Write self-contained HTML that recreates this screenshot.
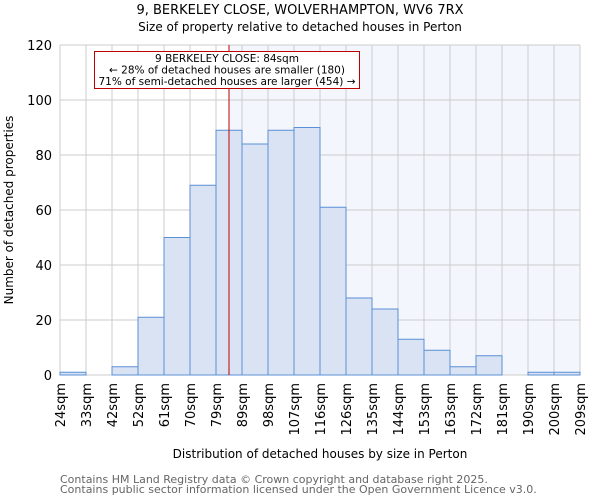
<!DOCTYPE html>
<html><head><meta charset="utf-8"><style>
body{margin:0;background:#fff;font-family:"DejaVu Sans","Liberation Sans",sans-serif}
</style></head><body>
<svg width="600" height="500" id="chart" font-family="DejaVu Sans, Liberation Sans, sans-serif">
<text x="300" y="14" text-anchor="middle" font-size="13">9, BERKELEY CLOSE, WOLVERHAMPTON, WV6 7RX</text>
<text x="300" y="31" text-anchor="middle" font-size="12">Size of property relative to detached houses in Perton</text>
<g id="plot"></g>
<text x="320" y="458" text-anchor="middle" font-size="12">Distribution of detached houses by size in Perton</text>
<text transform="translate(13,210) rotate(-90)" text-anchor="middle" font-size="12">Number of detached properties</text>
<text x="60" y="483" font-size="11" fill="#666">Contains HM Land Registry data © Crown copyright and database right 2025.</text>
<text x="60" y="493" font-size="11" fill="#666">Contains public sector information licensed under the Open Government Licence v3.0.</text>
</svg>
<script>
const categories=["24sqm","33sqm","42sqm","52sqm","61sqm","70sqm","79sqm","89sqm","98sqm","107sqm","116sqm","126sqm","135sqm","144sqm","153sqm","163sqm","172sqm","181sqm","190sqm","200sqm","209sqm"];
const counts=[1,0,3,21,50,69,89,84,89,90,61,28,24,13,9,3,7,0,1,1];
const yTicks=[0,20,40,60,80,100,120];
const markerIndex=6.5;
const NS="http://www.w3.org/2000/svg";
const g=document.getElementById("plot");
const L=60,R=580,T=45,B=375,yMax=120,n=counts.length;
const xs=i=>L+(R-L)*i/n;
const ys=v=>B-(B-T)*v/yMax;
function mk(t,a){const e=document.createElementNS(NS,t);for(const k in a)e.setAttribute(k,a[k]);g.appendChild(e);return e;}
let e;
e=mk("rect",{x:xs(markerIndex),y:T,width:R-xs(markerIndex),height:B-T,fill:"#f3f6fc"});


for(let i=0;i<=n;i++){e=mk("line",{x1:xs(i),x2:xs(i),y1:T,y2:B,stroke:"#cccccc"});

}
yTicks.forEach(v=>{e=mk("line",{x1:L,x2:R,y1:ys(v),y2:ys(v),stroke:"#cccccc"});


e=mk("text",{x:L-8,y:ys(v)+5,"text-anchor":"end","font-size":"13"});e.textContent=v;

});
counts.forEach((c,i)=>{e=mk("rect",{x:xs(i),y:ys(c),width:xs(1)-xs(0),height:B-ys(c),fill:"#dae3f3",stroke:"#5b8fd6","stroke-width":"1"});

});
categories.forEach((c,i)=>{const x=xs(i);e=mk("text",{transform:`translate(${x+5},383) rotate(-90)`,"text-anchor":"end","font-size":"13"});e.textContent=c;

});
e=mk("line",{x1:xs(markerIndex),x2:xs(markerIndex),y1:T,y2:B,stroke:"#c00000","stroke-width":"1"});


e=mk("rect",{x:94.5,y:51.5,width:265,height:37,fill:"#fff",stroke:"#c00000"});


["9 BERKELEY CLOSE: 84sqm","← 28% of detached houses are smaller (180)","71% of semi-detached houses are larger (454) →"].forEach((t,i)=>{e=mk("text",{x:227,y:62+i*11.5,"text-anchor":"middle","font-size":"10.5"});e.textContent=t;

});
</script>
</body></html>
